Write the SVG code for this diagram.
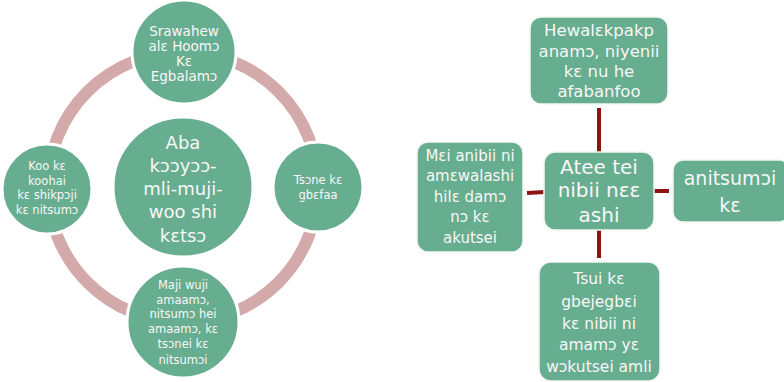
<svg xmlns="http://www.w3.org/2000/svg" width="784" height="382" viewBox="0 0 784 382">
<style>
.c{fill:#67AD8F;stroke:#FFFFFF;stroke-width:3}
.b{fill:#67AD8F;stroke:#F2F7F4;stroke-width:1.5}
.t{font-family:"DejaVu Sans","Liberation Sans",sans-serif;fill:#F7F7F7;text-anchor:middle}
.ln{stroke:#8E1414;stroke-width:4;fill:none}
</style>
<rect width="784" height="382" fill="#FFFFFF"/>
<g id="ring">
<circle cx="183" cy="187" r="135" fill="none" stroke="#D4A9A9" stroke-width="12"/>
</g>
<g id="connectors">
<line class="ln" x1="599" y1="108" x2="599" y2="152"/>
<line class="ln" x1="599" y1="230" x2="599" y2="258"/>
<line class="ln" x1="527" y1="193" x2="545" y2="192"/>
<line class="ln" x1="654" y1="191" x2="669" y2="191"/>
</g>
<g id="n-top">
<circle class="c" cx="184" cy="52" r="52"/>
<text class="t" font-size="13.5"><tspan x="184" y="36">Srawahew</tspan><tspan x="184" y="51">alɛ  Hoomɔ</tspan><tspan x="184" y="66">Kɛ</tspan><tspan x="184" y="81">Egbalamɔ</tspan></text>
</g>
<g id="n-left">
<circle class="c" cx="47" cy="189" r="45"/>
<text class="t" font-size="11.5"><tspan x="47" y="170">Koo kɛ</tspan><tspan x="47" y="184.5">koohai</tspan><tspan x="47" y="199">kɛ shikpɔji</tspan><tspan x="47" y="213.5">kɛ nitsumɔ</tspan></text>
</g>
<g id="n-right">
<circle class="c" cx="318" cy="187" r="45"/>
<text class="t" font-size="11.5"><tspan x="318" y="184">Tsɔne kɛ</tspan><tspan x="318" y="199">gbɛfaa</tspan></text>
</g>
<g id="n-bottom">
<circle class="c" cx="183" cy="322" r="56"/>
<text class="t" font-size="11.5"><tspan x="183" y="289">Maji wuji</tspan><tspan x="183" y="304">amaamɔ,</tspan><tspan x="183" y="318">nitsumɔ hei</tspan><tspan x="183" y="333">amaamɔ, kɛ</tspan><tspan x="183" y="348">tsɔnei kɛ</tspan><tspan x="183" y="364">nitsumɔi</tspan></text>
</g>
<g id="n-center">
<circle class="c" cx="183" cy="187" r="70"/>
<text class="t" font-size="18"><tspan x="183" y="149">Aba</tspan><tspan x="183" y="172">kɔɔyɔɔ-</tspan><tspan x="183" y="195">mli-muji-</tspan><tspan x="183" y="218">woo shi</tspan><tspan x="183" y="242">kɛtsɔ</tspan></text>
</g>
<g id="b-top">
<rect class="b" x="530" y="17" width="138" height="87" rx="11"/>
<text class="t" font-size="16.5"><tspan x="599" y="36">Hewalɛkpakp</tspan><tspan x="599" y="57">anamɔ, niyenii</tspan><tspan x="599" y="77">kɛ nu he</tspan><tspan x="599" y="97">afabanfoo</tspan></text>
</g>
<g id="b-center">
<rect class="b" x="544" y="152" width="110" height="78" rx="11"/>
<text class="t" font-size="20"><tspan x="599" y="174">Atee tei</tspan><tspan x="599" y="197">nibii nɛɛ</tspan><tspan x="599" y="222">ashi</tspan></text>
</g>
<g id="b-left">
<rect class="b" x="417" y="142" width="106" height="110" rx="11"/>
<text class="t" font-size="15"><tspan x="470" y="161">Mɛi anibii ni</tspan><tspan x="470" y="181">amɛwalashi</tspan><tspan x="470" y="202">hilɛ damɔ</tspan><tspan x="470" y="222">nɔ  kɛ</tspan><tspan x="470" y="243">akutsei</tspan></text>
</g>
<g id="b-right">
<rect class="b" x="673" y="160" width="116" height="62" rx="10"/>
<text class="t" font-size="19"><tspan x="730" y="185">anitsumɔi</tspan><tspan x="730" y="212">kɛ</tspan></text>
</g>
<g id="b-bottom">
<rect class="b" x="539" y="262" width="121" height="119" rx="12"/>
<text class="t" font-size="15.5"><tspan x="599" y="284">Tsui kɛ</tspan><tspan x="599" y="307">gbejegbɛi</tspan><tspan x="599" y="329">kɛ nibii ni</tspan><tspan x="599" y="350">amamɔ yɛ</tspan><tspan x="599" y="372">wɔkutsei amli</tspan></text>
</g>
</svg>
